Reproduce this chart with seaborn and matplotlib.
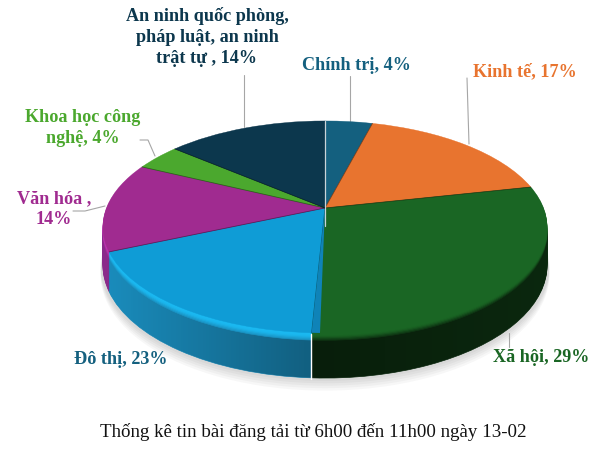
import numpy as np
import seaborn as sns
from matplotlib import pyplot as plt
from matplotlib.path import Path
from matplotlib.transforms import Transform, IdentityTransform

# clockwise from 12 o'clock
categories = ['Chính trị', 'Kinh tế', 'Xã hội', 'Đô thị', 'Văn hóa',
              'Khoa học công nghệ', 'An ninh quốc phòng']
# shares as drawn in the picture (the printed labels do not add up to 100)
slice_share = [4.1, 17.5, 29.2, 17.7, 13.6, 4.0, 13.9]
label_text = ['Chính trị, 4%', 'Kinh tế, 17%', 'Xã hội, 29%', 'Đô thị, 23%',
              'Văn hóa ,\n14%', 'Khoa học công\nnghệ, 4%',
              'An ninh quốc phòng,\npháp luật, an ninh\ntrật tự , 14%']
title = 'Thống kê tin bài đăng tải từ 6h00 đến 11h00 ngày 13-02'

top_colors = ['#14607f', '#e8742f', '#1a6624', '#0f9cd6', '#a02b90', '#4ba82e', '#0c374d']
rim_colors = ['#14607f', '#e8742f', '#1a6624', '#1ab8f0', '#bb35ae', '#4ba82e', '#0c374d']
wall_colors = ['#0e4a63', '#b85a22', '#0c2c10', '#1a8cbc', '#8a2a8a', '#357a20', '#082736']
label_colors = ['#14607f', '#e8742f', '#1a6624', '#14607f', '#a02b90', '#4ba82e', '#0c374d']
label_pos = [(356, 66), (525, 72), (541, 358), (121, 360), (54, 209), (83, 128), (207, 37)]
leaders = [([350, 350], [76, 122]), ([467, 469], [78, 144]), ([509, 509], [333, 347]),
           ([73, 85, 105], [211, 211, 206]), ([140, 148, 155], [140, 140, 156]),
           ([244, 244], [75, 127])]


class Tilt(Transform):
    # unit disc seen in perspective, output is in picture pixels
    input_dims = output_dims = 2

    def __init__(self, drop=0, grow=1.0):
        super().__init__()
        self.drop = drop
        self.grow = grow

    def transform_non_affine(self, values):
        x, y = values[:, 0] * self.grow, values[:, 1] * self.grow
        w = 1 + 0.179 * y
        return np.column_stack([325 + 218.5 * x / w, 208 + (self.drop - 102.6 * y) / w])


def lerp(c1, c2, t):
    a, b = np.array(sns.desaturate(c1, 1)), np.array(sns.desaturate(c2, 1))
    return tuple(a + (b - a) * t)


def layer(ax, values, colors, drop=0, grow=1.0, **props):
    wedges, _ = ax.pie(values, colors=colors, startangle=90, counterclock=False,
                       wedgeprops=props)
    for w in wedges:
        w.set_transform(Tilt(drop, grow) + ax.transData)
    return wedges


sns.set_theme(style='white')
plt.rcParams['font.family'] = ['Liberation Serif', 'DejaVu Serif']

fig, ax = plt.subplots(figsize=(6.16, 4.58), dpi=100)
fig.subplots_adjust(0, 0, 1, 1)

# soft shadow under the front edge
for d in range(46, 36, -2):
    layer(ax, [1], ['#000000'], drop=d, grow=1.01, alpha=0.03, linewidth=0)

# side wall
wall_wedges = []
for d in range(37, 6, -1):
    ws = layer(ax, slice_share, wall_colors, drop=d, linewidth=0.5)
    for w, c in zip(ws, wall_colors):
        w.set_edgecolor(c)
    if d in (37, 30, 22, 14, 7):
        wall_wedges += ws

# wall gets darker towards the front
shade = np.zeros((1, 616, 4))
shade[..., 3] = np.interp(np.arange(616), [105, 310, 548], [0.0, 0.32, 0.1])
im = ax.imshow(shade, extent=(0, 616, 458, 0), aspect='auto', zorder=1.5)

# bevel between wall and top
for d, t in [(6, 0.8), (5, 0.55), (4, 0.3), (3, 0.1), (2, 0.0), (1, 0.0)]:
    cols = [lerp(r, w, t) for r, w in zip(rim_colors, wall_colors)]
    ws = layer(ax, slice_share, cols, drop=d, linewidth=0.4)
    for w, c in zip(ws, cols):
        w.set_edgecolor(c)
        w.set_zorder(2)

# top face
ws = layer(ax, slice_share, top_colors, linewidth=0.3)
for w, c in zip(ws, top_colors):
    w.set_edgecolor(c)
    w.set_zorder(3)

# cut face of the blue slice showing along the green one
first = sum(slice_share[:3])
for w in layer(ax, [first - 0.5, 0.5, 100 - first], ['none', '#0f83b8', 'none'], linewidth=0):
    w.set_zorder(3.5)

ax.set_aspect('auto')
ax.set_xlim(0, 616)
ax.set_ylim(458, 0)
ax.axis('off')

# outline has to be taken after the limits are final
outline = [w.get_transform().transform_path(w.get_path()) for w in wall_wedges]
im.set_clip_path(Path.make_compound_path(*outline), IdentityTransform())

# dark seams between slices, only on the radial edges
for share in np.cumsum(slice_share)[:-1]:
    angle = np.radians(share * 3.6)
    rim = Tilt().transform(np.array([[np.sin(angle), np.cos(angle)]]))[0]
    ax.plot([325, rim[0]], [208, rim[1]], color='black', alpha=0.4, lw=0.6, zorder=3.2)

ax.plot([325, 325], [121, 226], color='#c9d3d8', lw=0.9, zorder=4)
ax.plot([311, 311], [334, 379], color='white', lw=1.0, zorder=4)

for xs, ys in leaders:
    ax.plot(xs, ys, color='#a6a6a6', lw=0.8, zorder=1)

for txt, col, (x, y) in zip(label_text, label_colors, label_pos):
    ax.text(x, y, txt, color=col, fontsize=13.1, fontweight='bold', ha='center',
            va='center', linespacing=1.28, zorder=5)
ax.text(313, 432, title, color='#111111', fontsize=13.6, ha='center', va='center')

fig.savefig('out.png', dpi=100)
